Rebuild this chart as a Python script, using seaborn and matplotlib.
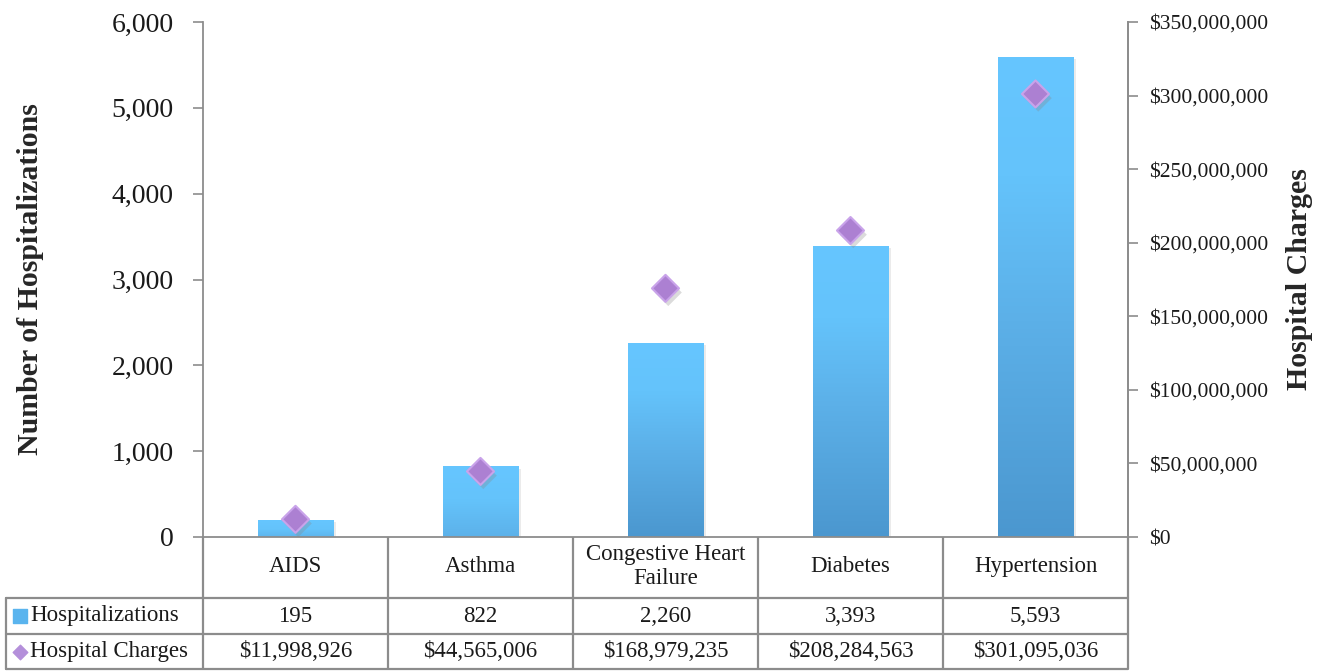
import numpy as np
import pandas as pd
import seaborn as sns
import matplotlib
matplotlib.use("Agg")
import matplotlib.pyplot as plt
import matplotlib.patheffects as pe
from matplotlib.ticker import FuncFormatter, MultipleLocator
from matplotlib.colors import LinearSegmentedColormap

# ---- data ----
categories = ["AIDS", "Asthma", "Congestive Heart\nFailure", "Diabetes", "Hypertension"]
hospitalizations = [195, 822, 2260, 3393, 5593]
charges = [11998926, 44565006, 168979235, 208284563, 301095036]
row_labels = ["Hospitalizations", "Hospital Charges"]

sns.set_theme(style="white")
FONT = ["Liberation Serif", "DejaVu Serif"]
plt.rcParams["font.family"] = FONT

W, H = 1329, 671
fig = plt.figure(figsize=(W / 100, H / 100), dpi=100)

def fx(px):
    return px / W

def fy(py):
    return 1 - py / H

L, R, T, B = 203, 1128, 22, 537
ax = fig.add_axes([fx(L), fy(B), fx(R) - fx(L), fy(T) - fy(B)])

df = pd.DataFrame({"cat": categories, "hosp": hospitalizations, "charges": charges})
sns.barplot(data=df, x="cat", y="hosp", ax=ax, color="#5AB4EE", width=0.41,
            saturation=1, edgecolor="none")
ax.set_xlim(-0.5, len(categories) - 0.5)
ax.set_ylim(0, 6000)

# per-bar gradient fill (light top, darker bottom)
cmap = LinearSegmentedColormap.from_list(
    "g", [(0.0, "#4B97CF"), (0.45, "#5CB0E8"), (0.75, "#64C3FB"), (1.0, "#66C6FF")])
grad = np.linspace(0, 1, 256).reshape(-1, 1)
for p in list(ax.patches):
    x0, y0 = p.get_x(), p.get_y()
    w, h = p.get_width(), p.get_height()
    p.set_path_effects([pe.SimplePatchShadow(offset=(2, -1.5), shadow_rgbFace="#b0b0b0",
                                             alpha=0.25), pe.Normal()])
    # lighter gradient for short bars, as in the reference
    lo = max(0.0, 0.55 - h / 6000 * 0.6) if h < 1500 else 0.0
    g = lo + (1 - lo) * grad
    im = ax.imshow(g, cmap=cmap, vmin=0, vmax=1, aspect="auto", origin="lower",
                   extent=[x0, x0 + w, y0, y0 + h], zorder=2)
    im.set_clip_path(p)
ax.set_ylim(0, 6000)
ax.set_xlim(-0.5, len(categories) - 0.5)

ax.set_xlabel("")
ax.set_xticks([])
ax.yaxis.set_major_locator(MultipleLocator(1000))
ax.yaxis.set_major_formatter(FuncFormatter(lambda v, _: f"{int(v):,}"))
ax.tick_params(axis="y", which="both", left=True, length=7, width=1.2, color="#8C8C8C",
               labelsize=20, pad=14, labelcolor="#1a1a1a")
for lab in ax.get_yticklabels():
    lab.set_family(FONT)
ax.set_ylabel("Number of Hospitalizations", fontsize=21.5, fontweight="bold",
              labelpad=0, family=FONT)
ax.yaxis.set_label_coords((44 - L) / (R - L), 0.5)
ax.spines["top"].set_visible(False)
for s in ["left", "right", "bottom"]:
    ax.spines[s].set_color("#8C8C8C")
    ax.spines[s].set_linewidth(1.3)

# secondary axis
ax2 = ax.twinx()
sns.scatterplot(data=df, x="cat", y="charges", ax=ax2, marker="D", s=190,
                color="#AC80D2", edgecolor="#C9A3EA", linewidth=1.5, zorder=5,
                legend=False)
for coll in ax2.collections:
    coll.set_path_effects([pe.SimplePatchShadow(offset=(2, -3), shadow_rgbFace="#888888",
                                                alpha=0.3),
                           pe.Normal()])
ax2.set_ylim(0, 350_000_000)
ax2.set_xlim(-0.5, len(categories) - 0.5)
ax2.yaxis.set_major_locator(MultipleLocator(50_000_000))
ax2.yaxis.set_major_formatter(FuncFormatter(lambda v, _: f"${int(v):,}"))
ax2.tick_params(axis="y", right=True, length=7, width=1.2, color="#8C8C8C",
                labelsize=15.5, pad=8, labelcolor="#1a1a1a")
for lab in ax2.get_yticklabels():
    lab.set_family(FONT)
ax2.set_ylabel("Hospital Charges", fontsize=21.5, fontweight="bold", family=FONT,
               rotation=90)
ax2.yaxis.set_label_coords((1286 - L) / (R - L), 0.5)
ax2.set_xlabel("")
for s in ["top", "left", "bottom"]:
    ax2.spines[s].set_visible(False)
ax2.spines["right"].set_color("#8C8C8C")
ax2.spines["right"].set_linewidth(1.3)
ax2.grid(False)
ax.grid(False)

# ---- data table ----
tax = fig.add_axes([0, 0, 1, 1], zorder=-1)
tax.set_xlim(0, W)
tax.set_ylim(H, 0)
tax.axis("off")
lc = "#8C8C8C"
lw = 1.6
col_x = [L + i * (R - L) / len(categories) for i in range(len(categories) + 1)]
rows_y = [B, 598, 634, 669]
left_x = 6
for x in col_x:
    tax.plot([x, x], [B, rows_y[-1]], color=lc, lw=lw, solid_capstyle="butt")
tax.plot([left_x, left_x], [rows_y[1], rows_y[-1]], color=lc, lw=lw)
for y in rows_y[1:]:
    tax.plot([left_x, R], [y, y], color=lc, lw=lw)

fs = 16.5
tc = "#1a1a1a"
for i, cat in enumerate(categories):
    cx = (col_x[i] + col_x[i + 1]) / 2
    tax.text(cx, (rows_y[0] + rows_y[1]) / 2 - 1, cat, ha="center", va="center",
             fontsize=fs, family=FONT, linespacing=1.15, color=tc)
    tax.text(cx, (rows_y[1] + rows_y[2]) / 2, f"{hospitalizations[i]:,}",
             ha="center", va="center", fontsize=fs, family=FONT, color=tc)
    tax.text(cx, (rows_y[2] + rows_y[3]) / 2, f"${charges[i]:,}",
             ha="center", va="center", fontsize=fs, family=FONT, color=tc)

ymid1 = (rows_y[1] + rows_y[2]) / 2
ymid2 = (rows_y[2] + rows_y[3]) / 2
tax.scatter([20], [ymid1], marker="s", s=90, color="#5AB4EE", zorder=3)
tax.scatter([20], [ymid2], marker="D", s=55, color="#B48FDA", zorder=3)
tax.text(30, ymid1, row_labels[0], ha="left", va="center", fontsize=fs,
         family=FONT, color=tc)
tax.text(30, ymid2, row_labels[1], ha="left", va="center", fontsize=fs,
         family=FONT, color=tc)

fig.savefig("out.png", dpi=100, facecolor="white")
